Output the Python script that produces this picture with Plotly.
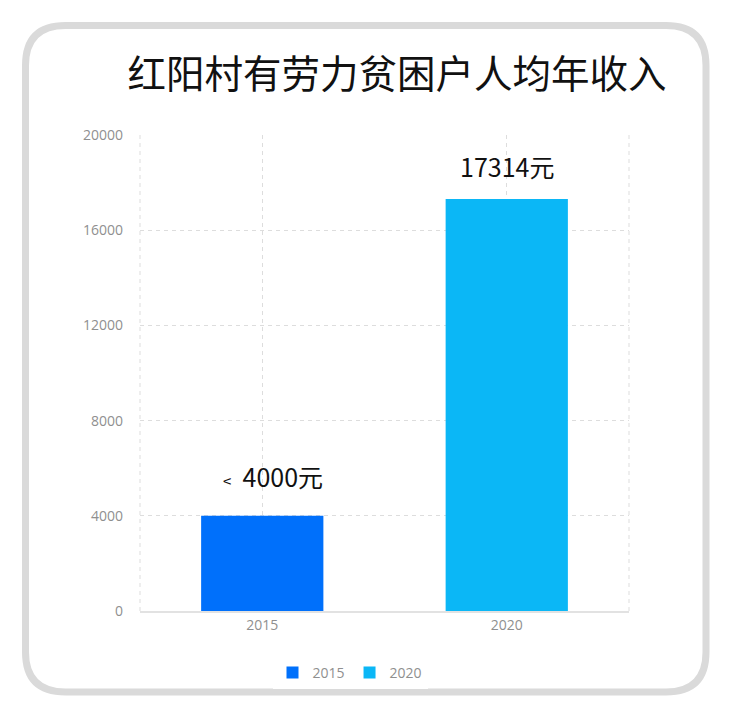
import plotly.graph_objects as go

years = ["2015", "2020"]
incomes = [4000, 17314]
labels = ["<span style='font-size:15px'>&lt;</span>&nbsp; 4000元", "17314元"]
colors = ["#0070fb", "#0bb7f6"]
title = "红阳村有劳力贫困户人均年收入"

W, H = 736, 718
OFF = 8  # page body margin
L, R, T, B = 140 - OFF, 629 - OFF, 135 - OFF, 611 - OFF


def px(x):
    return (x - OFF - L) / (R - L)


def py(y):
    return (B - (y - OFF)) / (B - T)


def rounded_frame(x0, y0, x1, y1, r):
    pts = [
        f"M {px(x0 + r)},{py(y0)}",
        f"L {px(x1 - r)},{py(y0)}",
        f"Q {px(x1)},{py(y0)} {px(x1)},{py(y0 + r)}",
        f"L {px(x1)},{py(y1 - r)}",
        f"Q {px(x1)},{py(y1)} {px(x1 - r)},{py(y1)}",
        f"L {px(x0 + r)},{py(y1)}",
        f"Q {px(x0)},{py(y1)} {px(x0)},{py(y1 - r)}",
        f"L {px(x0)},{py(y0 + r)}",
        f"Q {px(x0)},{py(y0)} {px(x0 + r)},{py(y0)}",
        "Z",
    ]
    return " ".join(pts)


fig = go.Figure()
for year, val, c in zip(years, incomes, colors):
    fig.add_trace(go.Bar(x=[year], y=[val], name=year, marker_color=c,
                         width=0.5, marker_line_width=0))

# category index positions for the value labels
label_shift = [(11, 40), (0, 33)]
for i, (val, lab) in enumerate(zip(incomes, labels)):
    fig.add_annotation(x=i, y=val, text=lab, showarrow=False,
                       xshift=label_shift[i][0], yshift=label_shift[i][1],
                       font=dict(size=25, color="#111111", family="Noto Sans CJK SC"))

grid = dict(color="#dddddd", width=1, dash="4px,4px")
fig.add_shape(type="line", xref="paper", yref="paper", x0=0, x1=0, y0=0, y1=1, line=grid, layer="below")
fig.add_shape(type="line", xref="paper", yref="paper", x0=1, x1=1, y0=0, y1=1, line=grid, layer="below")
fig.add_shape(type="path", xref="paper", yref="paper",
              path=rounded_frame(25.5, 25.5, 706, 692, 40),
              line=dict(color="#dadada", width=7))

fig.update_layout(
    width=W, height=H,
    margin=dict(l=L, r=W - R, t=T, b=H - B),
    paper_bgcolor="white", plot_bgcolor="white",
    barmode="overlay",
    font=dict(family="Open Sans", color="#8f8f8f", size=14),
    title=dict(text=title, x=(397 - OFF) / W, xanchor="center", y=1 - (75 - OFF) / H, yanchor="middle",
               font=dict(size=38.5, color="#111111", family="Noto Sans CJK SC")),
    xaxis=dict(type="category", categoryarray=years, range=[-0.5, 1.5],
               showgrid=True, gridcolor="#dddddd", griddash="4px,4px",
               showline=True, linecolor="#e2e2e2", linewidth=2, ticks="",
               tickfont=dict(size=14, color="#8f8f8f")),
    yaxis=dict(range=[0, 20000], tickvals=[0, 4000, 8000, 12000, 16000, 20000], tickformat="d",
               showgrid=True, gridcolor="#dddddd", griddash="4px,4px", zeroline=False,
               ticklabelstandoff=16, tickfont=dict(size=14, color="#8f8f8f")),
    legend=dict(orientation="h", x=px(350), xanchor="center", y=py(673), yanchor="middle",
                font=dict(size=14, color="#8f8f8f")),
    showlegend=True,
)

fig.write_html("out.html")
